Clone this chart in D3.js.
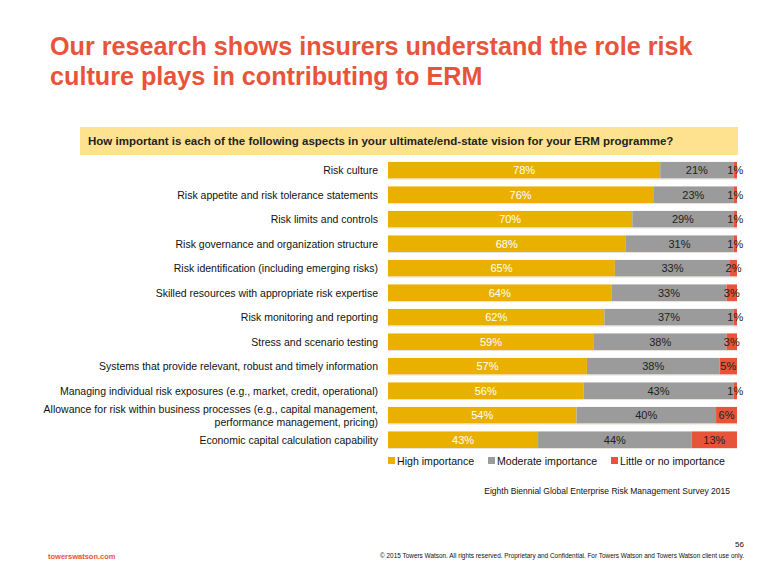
<!DOCTYPE html>
<html><head><meta charset="utf-8">
<script src="https://cdn.jsdelivr.net/npm/d3@7"></script>
<style>body{margin:0;background:#fff;} svg{display:block;font-family:"Liberation Sans",Arial,sans-serif;}</style>
</head><body>
<script>
const categories = [
  "Risk culture",
  "Risk appetite and risk tolerance statements",
  "Risk limits and controls",
  "Risk governance and organization structure",
  "Risk identification (including emerging risks)",
  "Skilled resources with appropriate risk expertise",
  "Risk monitoring and reporting",
  "Stress and scenario testing",
  "Systems that provide relevant, robust and timely information",
  "Managing individual risk exposures (e.g., market, credit, operational)",
  "Allowance for risk within business processes (e.g., capital management,|performance management, pricing)",
  "Economic capital calculation capability"
];
const high =     [78,76,70,68,65,64,62,59,57,56,54,43];
const moderate = [21,23,29,31,33,33,37,38,38,43,40,44];
const little =   [1,1,1,1,2,3,1,3,5,1,6,13];
const seriesNames = ["High importance","Moderate importance","Little or no importance"];
const colors = ["#EAB000","#9B9B9B","#E8543A"];

const W=781,H=584;
const svg=d3.select("body").append("svg").attr("width",W).attr("height",H);

// title
const tt=svg.append("text").attr("fill","#E8543A").attr("font-weight","bold").attr("font-size",25.2);
tt.append("tspan").attr("x",50).attr("y",55).text("Our research shows insurers understand the role risk");
tt.append("tspan").attr("x",50).attr("y",85).text("culture plays in contributing to ERM");

// question box
svg.append("rect").attr("x",80).attr("y",127).attr("width",658).attr("height",28).attr("fill","#FFE28F");
svg.append("text").attr("x",88).attr("y",145).attr("font-size",11.5).attr("font-weight","bold").attr("fill","#222")
  .text("How important is each of the following aspects in your ultimate/end-state vision for your ERM programme?");

const x=d3.scaleLinear().domain([0,100]).range([388,737]);
const y=d3.scaleBand().domain(d3.range(categories.length)).range([158,452]).paddingInner(0.32).paddingOuter(0.16);

const data=categories.map((c,i)=>({c,i,vals:[high[i],moderate[i],little[i]]}));
const stack=d3.stack().keys([0,1,2]).value((d,k)=>d.vals[k])(data);

stack.forEach((layer,k)=>{
  svg.append("g").selectAll("rect").data(layer).join("rect")
    .attr("x",d=>x(d[0])).attr("width",d=>x(d[1])-x(d[0]))
    .attr("y",d=>y(d.data.i)).attr("height",y.bandwidth())
    .attr("fill",colors[k]);
  svg.append("g").selectAll("text").data(layer).join("text")
    .attr("x",d=>x((d[0]+d[1])/2)).attr("y",d=>y(d.data.i)+y.bandwidth()/2+4)
    .attr("text-anchor","middle").attr("font-size",11)
    .attr("fill",k===0?"#fff":"#222")
    .text(d=>d.data.vals[k]+"%");
});
// light outline below bars
svg.append("g").selectAll("line").data(data).join("line")
  .attr("x1",x(0)).attr("x2",x(100)).attr("y1",d=>y(d.i)+y.bandwidth()+0.5).attr("y2",d=>y(d.i)+y.bandwidth()+0.5)
  .attr("stroke","#e8e2d8").attr("stroke-width",1);

// category labels
svg.append("g").selectAll("text").data(data).join("text")
  .attr("text-anchor","end").attr("font-size",10.5).attr("fill","#111")
  .each(function(d){
    const parts=d.c.split("|");
    const cy=y(d.i)+y.bandwidth()/2;
    const t=d3.select(this);
    parts.forEach((p,j)=>{
      t.append("tspan").attr("x",378).attr("y",cy+4+(j-(parts.length-1)/2)*12.5).text(p);
    });
  });

// legend
const lx=[388,488,611];
seriesNames.forEach((n,k)=>{
  svg.append("rect").attr("x",lx[k]).attr("y",457).attr("width",7).attr("height",7).attr("fill",colors[k]);
  svg.append("text").attr("x",lx[k]+9).attr("y",465).attr("font-size",10.6).attr("fill","#111").text(n);
});

svg.append("text").attr("x",730).attr("y",494).attr("text-anchor","end").attr("font-size",8.5).attr("fill","#111")
  .text("Eighth Biennial Global Enterprise Risk Management Survey 2015");
svg.append("text").attr("x",744).attr("y",547).attr("text-anchor","end").attr("font-size",8).attr("fill","#111").text("56");
svg.append("text").attr("x",380).attr("y",558).attr("font-size",6.4).attr("fill","#111")
  .attr("textLength",364).attr("lengthAdjust","spacingAndGlyphs")
  .text("© 2015 Towers Watson. All rights reserved. Proprietary and Confidential. For Towers Watson and Towers Watson client use only.");
svg.append("text").attr("x",48).attr("y",559).attr("font-size",7.5).attr("font-weight","bold").attr("fill","#E8543A").text("towerswatson.com");
</script>
</body></html>
